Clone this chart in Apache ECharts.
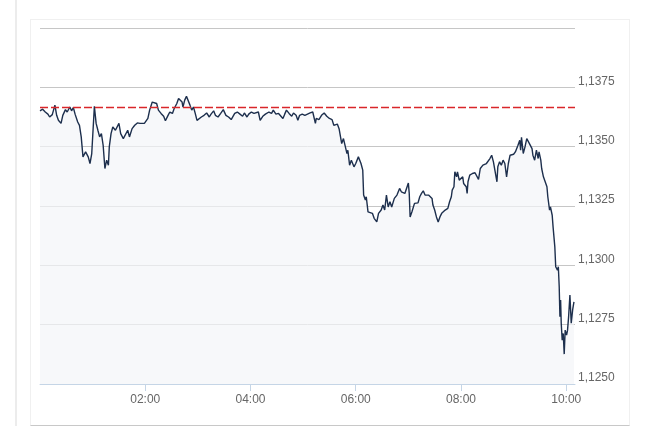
<!DOCTYPE html>
<html>
<head>
<meta charset="utf-8">
<script src="https://cdn.jsdelivr.net/npm/echarts@6/dist/echarts.min.js"></script>
<style>
html,body{margin:0;padding:0;background:#fff;}
#side{position:absolute;left:15px;top:0;width:2px;height:426px;background:#ececec;}
#card{position:absolute;left:30px;top:19px;width:598px;height:405px;border:1px solid #f0f0f0;border-bottom:1px solid #c8c8c8;background:#fff;}
#chart{position:absolute;left:0;top:0;width:645px;height:426px;}
</style>
</head>
<body>
<div id="side"></div>
<div id="card"></div>
<div id="chart"></div>
<script>
// minutes since 00:00
const minutes = [
0,3,6,9,11,14,17,19,21,24,
26,29,31,34,36,38,40,43,45,47,
49,52,55,57,59,62,64,66,68,70,
72,74,76,78,79,81,83,86,88,90,
92,95,97,100,102,105,108,111,114,116,
119,123,125,128,130,133,135,138,141,143,
146,148,151,153,156,158,160,162,163,165,
167,169,171,173,175,177,179,181,184,187,
190,193,195,198,200,203,206,209,212,215,
218,220,222,225,228,231,233,236,238,241,
244,
246,249,251,254,257,259,261,264,266,
269,272,274,277,279,281,284,287,289,292,
294,296,299,302,305,308,311,314,315,318,
321,324,327,330,333,335,337,339,341,342,
344,346,348,350,351,353,355,358,360,363,
364,366,368,369,371,372,374,376,379,381,
384,386,389,391,393,395,397,399,401,404,
407,408,410,412,414,416,418,420,421,422,
424,427,429,431,433,435,437,439,441,443,
445,447,448,450,452,454,456,458,460,462,
465,467,469,470,472,473,475,476,478,480,
482,483,486,487,488,490,493,496,498,500,
502,504,505,507,509,511,513,515,517,519,
521,522,524,526,528,530,532,534,536,538,
540,542,543,545,547,548,549,551,553,555,
557,559,561,562,564,566,568,569,571,572,
574,576,578,579,581,582,584,585,587,588,
590,591,592,592.8,593.6,594.3,595.4,596.6,597.7,598.8,
600.4,601.5,602.7,604.2,605.7,607.3,608.8
];
const prices = [
1.13651,1.13658,1.13646,1.13637,1.13625,1.13635,1.13675,1.13632,1.13611,1.13598,
1.13632,1.13656,1.13646,1.13667,1.13651,1.13665,1.13637,1.13604,1.13590,1.13541,
1.13457,1.13478,1.13457,1.13429,1.13471,1.13670,1.13598,1.13569,1.13541,1.13555,
1.13506,1.13408,1.13443,1.13422,1.13499,1.13555,1.13583,1.13569,1.13562,1.13598,
1.13555,1.13534,1.13541,1.13569,1.13541,1.13576,1.13590,1.13600,1.13598,1.13604,
1.13598,1.13619,1.13654,1.13688,1.13684,1.13682,1.13654,1.13640,1.13628,1.13609,
1.13632,1.13646,1.13640,1.13661,1.13682,1.13703,1.13710,1.13688,1.13667,1.13696,
1.13712,1.13710,1.13675,1.13654,1.13667,1.13640,1.13611,1.13619,1.13625,1.13632,
1.13642,1.13625,1.13637,1.13651,1.13632,1.13625,1.13640,1.13656,1.13632,1.13625,
1.13614,1.13609,1.13640,1.13646,1.13637,1.13628,1.13642,1.13625,1.13637,1.13646,
1.13640,
1.13637,1.13646,1.13611,1.13628,1.13637,1.13632,1.13646,1.13640,1.13654,
1.13637,1.13640,1.13637,1.13619,1.13637,1.13654,1.13640,1.13628,1.13642,1.13632,
1.13611,1.13632,1.13637,1.13632,1.13637,1.13642,1.13646,1.13598,1.13619,1.13614,
1.13632,1.13642,1.13628,1.13619,1.13614,1.13590,1.13583,1.13595,1.13576,1.13555,
1.13513,1.13534,1.13527,1.13471,1.13485,1.13422,1.13443,1.13415,1.13429,1.13457,
1.13464,1.13429,1.13401,1.13296,1.13275,1.13289,1.13225,1.13233,1.13219,1.13198,
1.13183,1.13219,1.13233,1.13254,1.13233,1.13296,1.13246,1.13268,1.13246,1.13282,
1.13296,1.13289,1.13324,1.13310,1.13310,1.13303,1.13303,1.13347,1.13303,1.13204,
1.13225,1.13261,1.13268,1.13263,1.13289,1.13303,1.13314,1.13296,1.13303,1.13296,
1.13289,1.13282,1.13254,1.13233,1.13204,1.13183,1.13204,1.13219,1.13225,1.13233,
1.13240,1.13268,1.13289,1.13317,1.13331,1.13394,1.13373,1.13394,1.13359,1.13362,
1.13373,1.13345,1.13331,1.13303,1.13352,1.13380,1.13387,1.13390,1.13394,1.13362,
1.13408,1.13401,1.13422,1.13415,1.13429,1.13422,1.13450,1.13464,1.13436,1.13443,
1.13352,1.13415,1.13436,1.13422,1.13443,1.13429,1.13373,1.13429,1.13464,1.13471,
1.13468,1.13478,1.13471,1.13506,1.13527,1.13485,1.13539,1.13471,1.13499,1.13534,
1.13520,1.13513,1.13492,1.13464,1.13443,1.13485,1.13450,1.13478,1.13443,1.13408,
1.13373,1.13352,1.13331,1.13289,1.13233,1.13246,1.13211,1.13162,1.13078,1.12994,
1.12980,1.12994,1.12910,1.12783,1.12854,1.12756,1.12685,1.12713,1.12626,1.12727,
1.12706,1.12727,1.12783,1.12875,1.12756,1.12812,1.12846
];
const referenceLevel = 1.13665;
const xTickMinutes = [120, 240, 360, 480, 600];
const xMin = 0, xMax = 610;
const yMin = 1.1250, yMax = 1.1400, yStep = 0.0025;

const series = minutes.map((m, i) => [m, prices[i]]);
const refLine = [[xMin, referenceLevel], [xMax, referenceLevel]];
function hhmm(m) {
  const h = Math.floor(m / 60), mm = Math.round(m % 60);
  return String(h).padStart(2, '0') + ':' + String(mm).padStart(2, '0');
}
const chart = echarts.init(document.getElementById('chart'), null, {renderer: 'canvas'});
chart.setOption({
  backgroundColor: 'transparent',
  animation: false,
  grid: {left: 40, right: 70, top: 28, bottom: 42},
  xAxis: {
    type: 'value', min: xMin, max: xMax,
    axisLine: {show: true, lineStyle: {color: '#c5d5e6', width: 1}},
    axisTick: {show: true, length: 7, lineStyle: {color: '#c5d5e6'}, customValues: xTickMinutes},
    axisLabel: {color: '#666', fontSize: 12, fontFamily: 'Arial', margin: 10,
      customValues: xTickMinutes, formatter: v => hhmm(v)},
    splitLine: {show: false}
  },
  yAxis: {
    type: 'value', position: 'right', min: yMin, max: yMax, interval: yStep,
    axisLine: {show: false}, axisTick: {show: false},
    axisLabel: {color: '#666', fontSize: 12, fontFamily: 'Arial', margin: 3,
      verticalAlign: 'bottom',
      formatter: v => v > yMax - 0.0001 ? '' : v.toFixed(4).replace('.', ',')},
    splitLine: {show: true, lineStyle: {color: '#c6c6c6', width: 1}}
  },
  series: [{
    type: 'line', data: series, symbol: 'none', smooth: false, z: 3,
    lineStyle: {color: '#1d2f4d', width: 1.4},
    areaStyle: {color: '#f4f5f8', origin: 'start'}
  }, {
    type: 'line', data: refLine, symbol: 'none', silent: true, z: 4,
    lineStyle: {color: '#d9262a', type: [8, 3], width: 1.3}
  }]
});
</script>
</body>
</html>
